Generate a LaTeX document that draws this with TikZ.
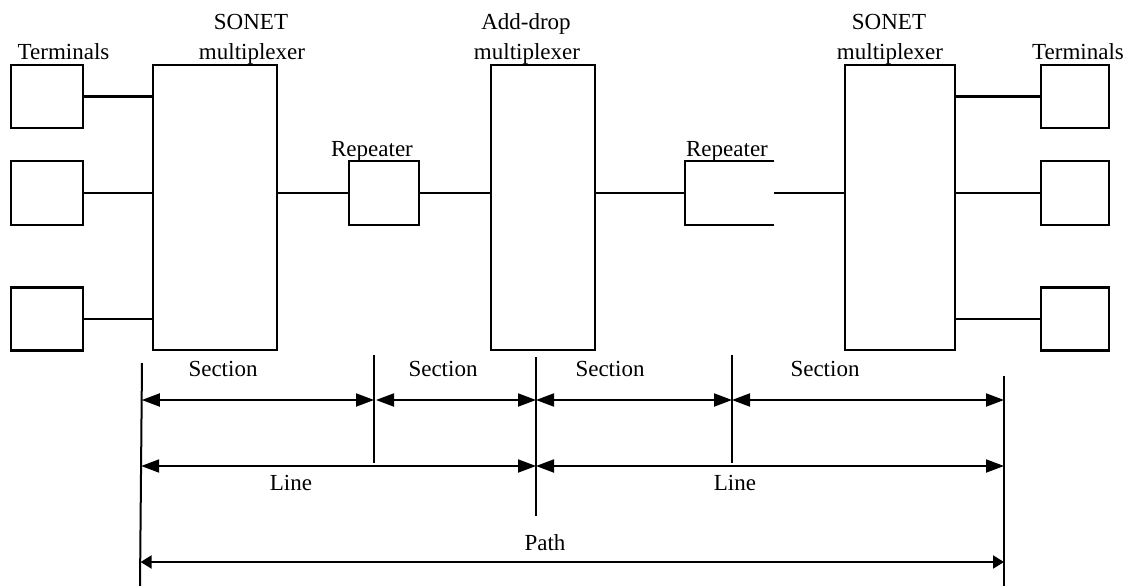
\documentclass[tikz,border=0pt]{standalone}
\usepackage{fontspec}
\setmainfont{Liberation Serif}
\usetikzlibrary{arrows.meta}
\begin{document}
\begin{tikzpicture}[x=1pt,y=-1pt,
  box/.style={draw, line width=2.2pt, rectangle, inner sep=0pt},
  openbox/.style={rectangle, inner sep=0pt},
  wire/.style={line width=2.2pt},
  lbl/.style={font=\fontsize{23}{27}\selectfont, inner sep=0pt, anchor=base},
  divider/.style={line width=2pt},
  dim/.style={line width=2pt, {Triangle[length=18pt,width=13pt]}-{Triangle[length=18pt,width=13pt]}},
  pathdim/.style={line width=2pt, {Triangle[length=11pt,width=13pt]}-{Triangle[length=11pt,width=13pt]}}]
\useasboundingbox (0,0) rectangle (1125,586);

% terminals, left
\node[box, minimum width=72pt, minimum height=63pt] (tl1) at (47,96.5) {};
\node[box, minimum width=72pt, minimum height=64pt] (tl2) at (47,193) {};
\node[box, minimum width=72pt, minimum height=63pt] (tl3) at (47,319) {};
% multiplexers
\node[box, minimum width=124pt, minimum height=285pt] (m1) at (215,207.5) {};
\node[box, minimum width=104pt, minimum height=285pt] (m2) at (543,207.5) {};
\node[box, minimum width=110pt, minimum height=285pt] (m3) at (900,207.5) {};
% repeaters
\node[box, minimum width=70pt, minimum height=64pt] (r1) at (384,193) {};
\node[openbox, minimum width=89pt, minimum height=64pt] (r2) at (729.5,193) {};
\draw[wire] (r2.north east) -- (r2.north west) -- (r2.south west) -- (r2.south east);
% terminals, right
\node[box, minimum width=68pt, minimum height=63pt] (tr1) at (1075,96.5) {};
\node[box, minimum width=68pt, minimum height=64pt] (tr2) at (1075,193) {};
\node[box, minimum width=68pt, minimum height=63pt] (tr3) at (1075,319) {};

% links
\draw[wire] (tl1.east) -- (tl1.east -| m1.west);
\draw[wire] (tl2.east) -- (tl2.east -| m1.west);
\draw[wire] (tl3.east) -- (tl3.east -| m1.west);
\draw[wire] (r1.west -| m1.east) -- (r1.west);
\draw[wire] (r1.east) -- (r1.east -| m2.west);
\draw[wire] (r2.west -| m2.east) -- (r2.west);
\draw[wire] (r2.east) -- (r2.east -| m3.west);
\draw[wire] (tr1.west -| m3.east) -- (tr1.west);
\draw[wire] (tr2.west -| m3.east) -- (tr2.west);
\draw[wire] (tr3.west -| m3.east) -- (tr3.west);

% labels
\node[lbl] (tlab1) at (63.5,60) {Terminals};
\node[lbl] (sonet1a) at (251,30) {SONET};
\node[lbl] (sonet1b) at (252,60) {multiplexer};
\node[lbl] (adma) at (526,30) {Add-drop};
\node[lbl] (admb) at (527,60) {multiplexer};
\node[lbl] (sonet2a) at (889,30) {SONET};
\node[lbl] (sonet2b) at (890,60) {multiplexer};
\node[lbl] (tlab2) at (1078,60) {Terminals};
\node[lbl] (rlab1) at (372,156) {Repeater};
\node[lbl] (rlab2) at (727,156) {Repeater};

% dividers
\coordinate (d0t) at (142,363); \coordinate (d0b) at (140,586);
\coordinate (d1t) at (374,355); \coordinate (d1b) at (374,463);
\coordinate (d2t) at (536,357); \coordinate (d2b) at (536,516);
\coordinate (d3t) at (732,355); \coordinate (d3b) at (732,463);
\coordinate (d4t) at (1004,376); \coordinate (d4b) at (1004,586);
\draw[divider] (d0t) -- (d0b);
\draw[divider] (d1t) -- (d1b);
\draw[divider] (d2t) -- (d2b);
\draw[divider] (d3t) -- (d3b);
\draw[divider] (d4t) -- (d4b);

% section spans
\coordinate (s0) at (141.8,400); \coordinate (s1) at (374,400);
\coordinate (s1r) at (376,400); \coordinate (s2) at (536,400);
\coordinate (s3) at (732,400); \coordinate (s4) at (1004,400);
\draw[dim] (s0) -- (s1);
\draw[dim] (s1r) -- (s2);
\draw[dim] (s2) -- (s3);
\draw[dim] (s3) -- (s4);
\node[lbl] (sec1) at (223,376) {Section};
\node[lbl] (sec2) at (443,376) {Section};
\node[lbl] (sec3) at (610,376) {Section};
\node[lbl] (sec4) at (825,376) {Section};

% line spans
\coordinate (l0) at (141.2,466); \coordinate (l1) at (536,466); \coordinate (l2) at (1004,466);
\draw[dim] (l0) -- (l1);
\draw[dim] (l1) -- (l2);
\node[lbl] (line1) at (291,490) {Line};
\node[lbl] (line2) at (735,490) {Line};

% path span
\coordinate (p0) at (140.6,562); \coordinate (p1) at (1004,562);
\draw[pathdim] (p0) -- (p1);
\node[lbl] (pathlab) at (545,550) {Path};
\end{tikzpicture}
\end{document}
